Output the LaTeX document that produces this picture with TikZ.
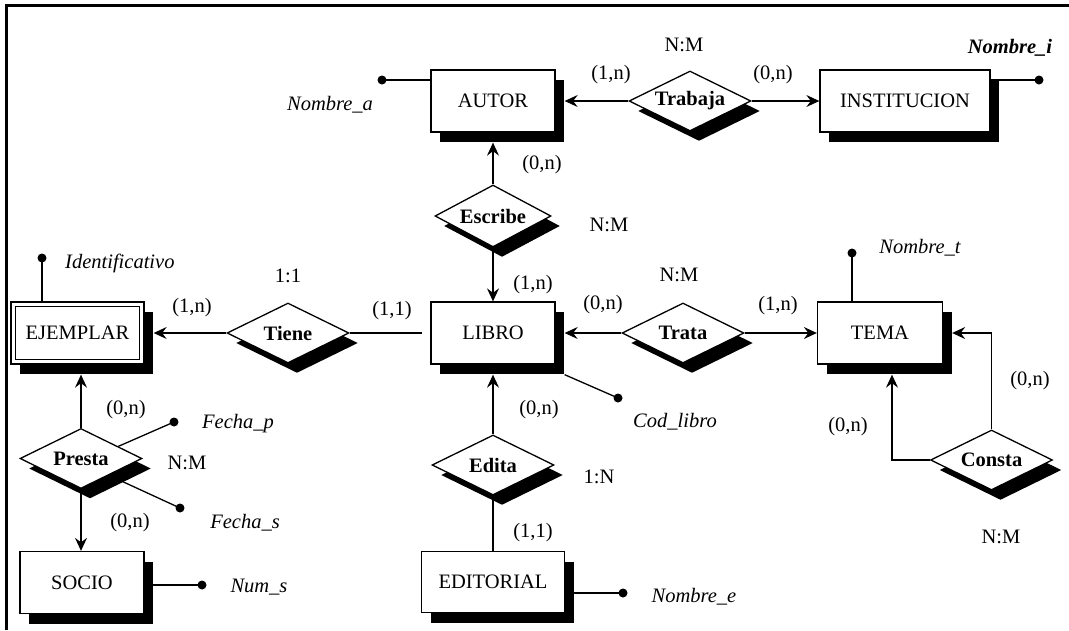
\documentclass[tikz,border=0pt]{standalone}
\usepackage{fontspec}
\setmainfont{Liberation Serif}
\usetikzlibrary{shapes.geometric,shadows,arrows.meta}
\begin{document}
\begin{tikzpicture}[x=1pt,y=-1pt,
  every node/.style={font=\fontsize{20.5}{24}\selectfont},
  shd/.style={drop shadow={shadow xshift=9pt, shadow yshift=-10pt, fill=black, opacity=1}},
  entity/.style={draw, line width=1.3pt, fill=white, rectangle, inner sep=0pt, minimum height=62pt, shd},
  rel/.style={draw, line width=1.3pt, fill=white, diamond, aspect=2, inner sep=0pt, minimum width=122pt, minimum height=60pt, font=\fontsize{20.5}{24}\selectfont\bfseries, shd},
  conn/.style={line width=1.3pt},
  arr/.style={conn, -{Stealth[length=13pt, width=12pt, inset=4.5pt]}},
  lbl/.style={inner sep=0pt},
  att/.style={inner sep=0pt, font=\fontsize{20.5}{24}\selectfont\itshape},
  dot/.style={fill=black},
]
\useasboundingbox (0,0) rectangle (1069,630);
\draw[line width=3pt] (6,630) -- (6,5) -- (1069,5);

% entities
\node[entity, minimum width=124pt] (autor) at (493,101) {AUTOR};
\node[entity, minimum width=170pt] (inst) at (905,101) {INSTITUCION};
\node[entity, minimum width=124pt] (libro) at (493,333) {LIBRO};
\node[entity, minimum width=125pt] (tema) at (880,333) {TEMA};
\node[entity, minimum width=133pt] (ejem) at (77.5,333) {EJEMPLAR};
\draw[line width=1.3pt] ([shift={(5,5)}]ejem.north west) rectangle ([shift={(-5,-5)}]ejem.south east);
\node[entity, minimum width=143pt, minimum height=61pt] (edit) at (493,582) {EDITORIAL};
\node[entity, minimum width=124pt] (socio) at (82,582.5) {SOCIO};

% relationships
\node[rel] (trabaja) at (690,101) {Trabaja};
\node[rel, minimum width=116pt, minimum height=62pt] (escribe) at (493,216) {Escribe};
\node[rel] (tiene) at (288,333) {Tiene};
\node[rel] (trata) at (683,333) {Trata};
\node[rel] (edita) at (493,465) {Edita};
\node[rel] (presta) at (81,458.5) {Presta};
\node[rel] (consta) at (991.5,460) {Consta};

% connectors
\draw[arr, shorten >=9pt] (trabaja.west) -- (autor.east);
\draw[arr] (trabaja.east) -- (inst.west);
\draw[arr, shorten >=10pt] (escribe.north) -- (autor.south);
\draw[arr] (escribe.south) -- (libro.north);
\draw[arr, shorten >=9pt] (tiene.west) -- (ejem.east);
\draw[conn, shorten >=8pt] (tiene.east) -- (libro.west);
\draw[arr, shorten >=9pt] (trata.west) -- (libro.east);
\draw[arr] (trata.east) -- (tema.west);
\draw[arr, shorten >=10pt] (edita.north) -- (libro.south);
\draw[conn] (edita.south) -- (edit.north);
\draw[arr, shorten >=10pt] (presta.north) -- (presta.north |- ejem.south);
\draw[arr] (presta.south) -- (presta.south |- socio.north);
\draw[arr, shorten >=10pt] (consta.west) -| ([xshift=12pt]tema.south);
\draw[arr, shorten >=9pt] (consta.north) |- (tema.east);

% attributes
\coordinate (da) at (382,80);
\draw[conn] (da) -- (da -| autor.west);
\fill[dot] (da) circle (4.5);
\coordinate (di) at (1039,80);
\draw[conn] (di -| inst.east) -- (di);
\fill[dot] (di) circle (4.5);
\coordinate (did) at (42,258);
\draw[conn] (did) -- (did |- ejem.north);
\fill[dot] (did) circle (4.5);
\coordinate (dt) at (852,253);
\draw[conn] (dt) -- (dt |- tema.north);
\fill[dot] (dt) circle (4.5);
\coordinate (dc) at (618,398);
\draw[conn] ([xshift=9pt,yshift=-10pt]libro.south east) -- (dc);
\fill[dot] (dc) circle (4.5);
\coordinate (de) at (623,593);
\draw[conn] (de -| edit.east) -- (de);
\fill[dot] (de) circle (4.5);
\coordinate (ds) at (202,585);
\draw[conn] (ds -| socio.east) -- (ds);
\fill[dot] (ds) circle (4.5);
\coordinate (dfp) at (174,422);
\draw[conn] (presta.18) -- (dfp);
\fill[dot] (dfp) circle (4.5);
\coordinate (dfs) at (180,508);
\draw[conn] (presta.-31) -- (dfs);
\fill[dot] (dfs) circle (4.5);

% attribute names
\node[att, anchor=west] (tna) at (287,105) {Nombre\_a};
\node[att, font=\fontsize{20.5}{24}\selectfont\bfseries\itshape] (tni) at (1010,48) {Nombre\_i};
\node[att, anchor=west] (tid) at (65,263) {Identificativo};
\node[att] (tnt) at (920,248) {Nombre\_t};
\node[att] (tcl) at (675,422) {Cod\_libro};
\node[att] (tfp) at (238,424) {Fecha\_p};
\node[att] (tfs) at (245,523) {Fecha\_s};
\node[att] (tns) at (259,587) {Num\_s};
\node[att] (tne) at (694,597) {Nombre\_e};

% cardinalities
\node[lbl] (l1) at (684,45) {N:M};
\node[lbl] (l2) at (611,75) {(1,n)};
\node[lbl] (l3) at (773,75) {(0,n)};
\node[lbl] (l4) at (542,165) {(0,n)};
\node[lbl] (l5) at (609,225) {N:M};
\node[lbl] (l6) at (533,285) {(1,n)};
\node[lbl] (l7) at (288,276) {1:1};
\node[lbl] (l8) at (192,308) {(1,n)};
\node[lbl] (l9) at (392,311) {(1,1)};
\node[lbl] (l10) at (679,275) {N:M};
\node[lbl] (l11) at (603,305) {(0,n)};
\node[lbl] (l12) at (778,306) {(1,n)};
\node[lbl] (l13) at (1030,381) {(0,n)};
\node[lbl] (l14) at (848,427) {(0,n)};
\node[lbl] (l15) at (539,410) {(0,n)};
\node[lbl] (l16) at (126,410) {(0,n)};
\node[lbl] (l17) at (187,463) {N:M};
\node[lbl] (l18) at (599,477) {1:N};
\node[lbl] (l19) at (130,523) {(0,n)};
\node[lbl] (l20) at (533,533) {(1,1)};
\node[lbl] (l21) at (1001,537) {N:M};
\end{tikzpicture}
\end{document}
